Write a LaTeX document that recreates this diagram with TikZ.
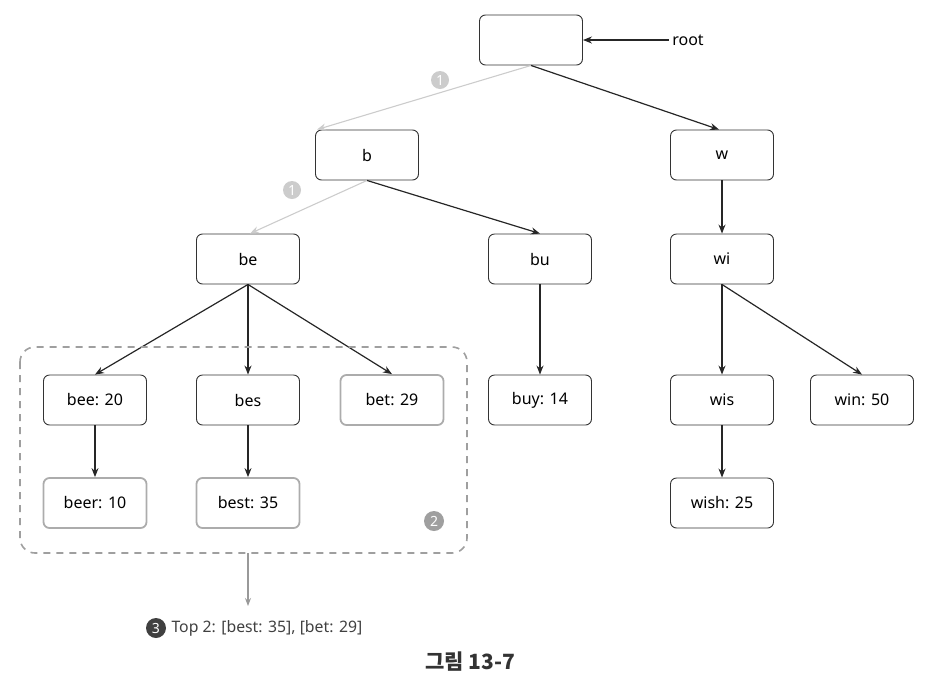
\documentclass[tikz,border=0pt]{standalone}
\usepackage{fontspec}
\setmainfont{Noto Sans}
\newfontfamily\krfont{Noto Sans CJK KR}
\usetikzlibrary{arrows.meta}

\begin{document}
\begin{tikzpicture}[x=1pt,y=-1pt]
\tikzstyle{trie}=[draw=black!80,rounded corners=6pt,minimum width=103pt,minimum height=50pt,inner sep=0pt,line width=0.9pt,font=\fontsize{16}{19}\selectfont]
\tikzstyle{top}=[trie,draw=gray!65,line width=1.8pt]
\tikzstyle{edge}=[-{Stealth[length=9pt,width=7pt]},black!85,line width=1.2pt]
\tikzstyle{visit}=[-{Stealth[length=9pt,width=7pt]},gray!40,line width=1.1pt]
\tikzstyle{stepmark}=[circle,inner sep=0pt,minimum size=20pt,text=white,font=\bfseries\fontsize{14}{14}\selectfont]

\useasboundingbox (0,0) rectangle (942,686);

% trie nodes
\node[trie] (root) at (531,40) {};
\node[trie] (b)    at (367,155) {b};
\node[trie] (w)    at (722,155) {w};
\node[trie] (be)   at (248,259) {be};
\node[trie] (bu)   at (540,259) {bu};
\node[trie] (wi)   at (722,259) {wi};
\node[trie] (bee)  at (95,400)  {bee: 20};
\node[trie] (bes)  at (248,400) {bes};
\node[top]  (bet)  at (392,400) {bet: 29};
\node[trie] (buy)  at (540,400) {buy: 14};
\node[trie] (wis)  at (722,400) {wis};
\node[trie] (win)  at (862,400) {win: 50};
\node[top]  (beer) at (95,503)  {beer: 10};
\node[top]  (best) at (248,503) {best: 35};
\node[trie] (wish) at (722,503) {wish: 25};

% root pointer
\node[font=\fontsize{16}{19}\selectfont] (rootlabel) at (688,40) {root};
\draw[edge] (rootlabel.west) -- (root.east);

% edges
\draw[visit] (root.south) -- ([xshift=-50pt]b.north);
\draw[visit] (b.south) -- ([xshift=2pt]be.north);
\draw[edge] (root.south) -- ([xshift=-3pt]w.north);
\draw[edge] (b.south) -- (bu.north);
\draw[edge] (w) -- (wi);
\draw[edge] (be.south) -- (bee.north);
\draw[edge] (be.south) -- (bes.north);
\draw[edge] (be.south) -- (bet.north);
\draw[edge] (bu) -- (buy);
\draw[edge] (wi) -- (wis);
\draw[edge] (wi.south) -- (win.north);
\draw[edge] (bee) -- (beer);
\draw[edge] (bes) -- (best);
\draw[edge] (wis) -- (wish);

% step markers
\node[stepmark,fill=gray!40,minimum size=18pt] (s1a) at (440,80) {1};
\node[stepmark,fill=gray!40,minimum size=18pt] (s1b) at (292,190) {1};

% subtree box
\draw[gray!75,dash pattern=on 7pt off 6pt,line width=1.6pt,rounded corners=15pt] (20,347) rectangle (467,553);
\coordinate (boxbottom) at (248,553);
\node[stepmark,fill=gray!75] (s2) at (434,521) {2};

% result
\node[stepmark,fill=black!75] (s3) at (156,628) {3};
\node[anchor=west,text=black!75,font=\fontsize{15.8}{18}\selectfont] (result) at (168,628) {Top 2: [best: 35], [bet: 29]};
\draw[-{Stealth[length=8pt,width=6pt]},gray!80,line width=1.1pt] (boxbottom) -- (248,606);

% caption
\node[font=\krfont\bfseries\fontsize{21}{24}\selectfont,text=black!80] (caption) at (470,662) {그림 13-7};
\end{tikzpicture}
\end{document}
